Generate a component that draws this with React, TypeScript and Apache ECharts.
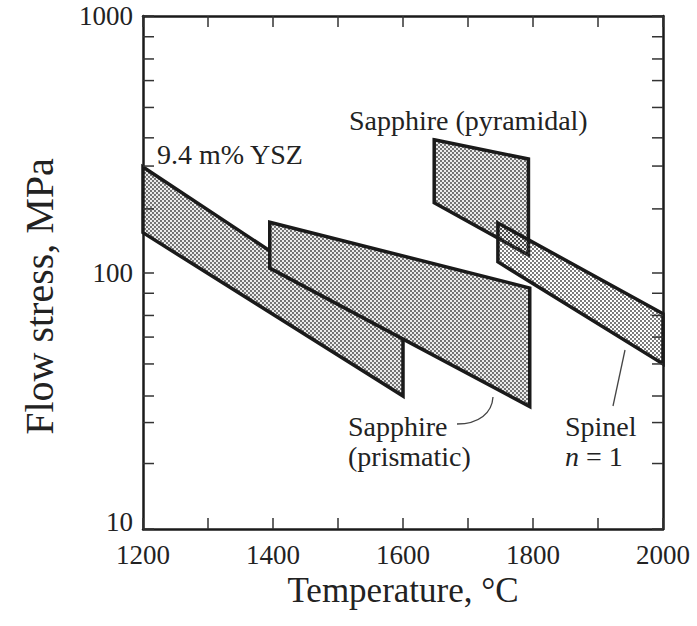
import React, { useEffect, useRef } from "react";
import * as echarts from "echarts";

// Temperature range (°C) and flow-stress range (MPa)
const tempMin = 1200;
const tempMax = 2000;
const stressMin = 10;
const stressMax = 1000;

// Shaded regions: [temperature °C, flow stress MPa] vertices
const yszBand: number[][] = [[1200, 258], [1600, 55], [1600, 33], [1200, 143]];
const prismaticBand: number[][] = [[1395, 157], [1795, 87], [1795, 30], [1395, 104]];
const pyramidalBand: number[][] = [[1648, 329], [1793, 277], [1793, 117], [1648, 187]];
const spinelBand: number[][] = [[1746, 156], [2000, 69], [2000, 44], [1746, 110]];

// Minor tick marks on the stress axis
const minorTicks: number[] = [
  18, 26, 33, 44, 56, 68, 83,
  177, 260, 335, 440, 560, 680, 830,
];

const FONT = "'Liberation Serif', 'DejaVu Serif', serif";
const INK = "#1a1a1a";

function makePattern(withBackground: boolean): HTMLCanvasElement {
  const c = document.createElement("canvas");
  c.width = 4;
  c.height = 4;
  const ctx = c.getContext("2d")!;
  if (withBackground) {
    ctx.fillStyle = "#ececec";
    ctx.fillRect(0, 0, 4, 4);
  }
  ctx.fillStyle = "#3c3c3c";
  ctx.beginPath();
  ctx.arc(1, 1, 0.9, 0, Math.PI * 2);
  ctx.fill();
  ctx.beginPath();
  ctx.arc(3, 3, 0.9, 0, Math.PI * 2);
  ctx.fill();
  return c;
}

export default function App() {
  const ref = useRef<HTMLDivElement>(null);

  useEffect(() => {
    if (!ref.current) return;
    const chart = echarts.init(ref.current, null, { renderer: "svg" });
    const opaque = { image: makePattern(true), repeat: "repeat" };
    const clear = { image: makePattern(false), repeat: "repeat" };

    const bandSeries = (name: string, band: number[][], fill: any, z: number) => ({
      type: "custom",
      name,
      clip: false,
      z,
      data: band,
      encode: { x: 0, y: 1 },
      renderItem: (params: any, api: any) => {
        if (params.dataIndex !== 0) return null;
        const pts = band.map((p) => api.coord(p));
        return {
          type: "polygon",
          shape: { points: pts },
          style: { fill, stroke: INK, lineWidth: 3.5, lineJoin: "miter" },
        };
      },
    });

    const tickLen = 11;
    const axisLine = { show: true, lineStyle: { color: INK, width: 2.5 } };
    const axisTick = { show: true, inside: true, length: tickLen, lineStyle: { color: "#333", width: 1.5 } };
    const labelStyle = { color: "#222", fontFamily: FONT, fontSize: 27 };
    const annot = { fontSize: 28, fontFamily: FONT, fill: "#222", verticalAlign: "middle", align: "left" };

    chart.setOption({
      animation: false,
      backgroundColor: "#ffffff",
      grid: { left: 143, right: 34, top: 16, bottom: 97, containLabel: false },
      xAxis: [
        {
          type: "value",
          position: "bottom",
          min: tempMin,
          max: tempMax,
          interval: 200,
          axisLine,
          axisTick,
          minorTick: { show: true, splitNumber: 2, length: tickLen, lineStyle: { color: "#333", width: 1.5 } },
          splitLine: { show: false },
          axisLabel: { ...labelStyle, margin: 12, formatter: (v: number) => String(v) },
          name: "Temperature, °C",
          nameLocation: "middle",
          nameGap: 40,
          nameTextStyle: { color: "#222", fontFamily: FONT, fontSize: 35 },
        },
        {
          type: "value",
          position: "top",
          min: tempMin,
          max: tempMax,
          interval: 200,
          axisLine,
          axisTick,
          minorTick: { show: true, splitNumber: 2, length: tickLen, lineStyle: { color: "#333", width: 1.5 } },
          splitLine: { show: false },
          axisLabel: { show: false },
        },
      ],
      yAxis: [
        {
          type: "log",
          logBase: 10,
          position: "left",
          min: stressMin,
          max: stressMax,
          axisLine,
          axisTick,
          splitLine: { show: false },
          axisLabel: {
            ...labelStyle,
            margin: 10,
            formatter: (v: number) => (v === stressMin ? "{low|" + v + "}" : String(v)),
            rich: { low: { ...labelStyle, padding: [0, 0, 14, 0] } },
          },
          name: "Flow stress, MPa",
          nameLocation: "middle",
          nameGap: 84,
          nameTextStyle: { color: "#222", fontFamily: FONT, fontSize: 40, padding: [0, 48, 0, 0] },
        },
        {
          type: "log",
          logBase: 10,
          position: "right",
          min: stressMin,
          max: stressMax,
          axisLine,
          axisTick,
          splitLine: { show: false },
          axisLabel: { show: false },
        },
      ],
      series: [
        bandSeries("9.4 m% YSZ", yszBand, opaque, 2),
        bandSeries("Sapphire (prismatic)", prismaticBand, opaque, 3),
        bandSeries("Sapphire (pyramidal)", pyramidalBand, opaque, 4),
        bandSeries("Spinel n = 1", spinelBand, clear, 5),
        {
          type: "custom",
          name: "minor ticks",
          clip: false,
          z: 6,
          data: minorTicks.map((v) => [tempMin, v]),
          encode: { x: 0, y: 1 },
          renderItem: (params: any, api: any) => {
            const v = api.value(1);
            const l = api.coord([tempMin, v]);
            const r = api.coord([tempMax, v]);
            const st = { stroke: "#333", lineWidth: 1.5 };
            return {
              type: "group",
              children: [
                { type: "line", shape: { x1: l[0], y1: l[1], x2: l[0] + tickLen, y2: l[1] }, style: st },
                { type: "line", shape: { x1: r[0], y1: r[1], x2: r[0] - tickLen, y2: r[1] }, style: st },
              ],
            };
          },
        },
      ],
      graphic: [
        { type: "text", z: 100, style: { ...annot, text: "9.4 m% YSZ", x: 157, y: 154 } },
        { type: "text", z: 100, style: { ...annot, text: "Sapphire (pyramidal)", x: 349, y: 120 } },
        { type: "text", z: 100, style: { ...annot, text: "Sapphire", x: 348, y: 426 } },
        { type: "text", z: 100, style: { ...annot, text: "(prismatic)", x: 348, y: 456 } },
        { type: "text", z: 100, style: { ...annot, text: "Spinel", x: 565, y: 426 } },
        {
          type: "text",
          z: 100,
          style: {
            ...annot,
            text: "{i|n} = 1",
            x: 565,
            y: 456,
            rich: { i: { fontStyle: "italic", fontSize: 28, fontFamily: FONT, fill: "#222" } },
          },
        },
        {
          type: "bezierCurve",
          z: 100,
          shape: { x1: 457, y1: 424, cpx1: 479, cpy1: 424, cpx2: 492, cpy2: 413, x2: 493, y2: 397 },
          style: { stroke: "#444", lineWidth: 1.3, fill: "none" },
        },
        {
          type: "line",
          z: 100,
          shape: { x1: 625, y1: 350, x2: 613, y2: 406 },
          style: { stroke: "#444", lineWidth: 1.3 },
        },
      ],
    });

    return () => chart.dispose();
  }, []);

  return (
    <div
      ref={ref}
      style={{ position: "fixed", left: 0, top: 0, width: 697, height: 626, background: "#fff" }}
    />
  );
}
